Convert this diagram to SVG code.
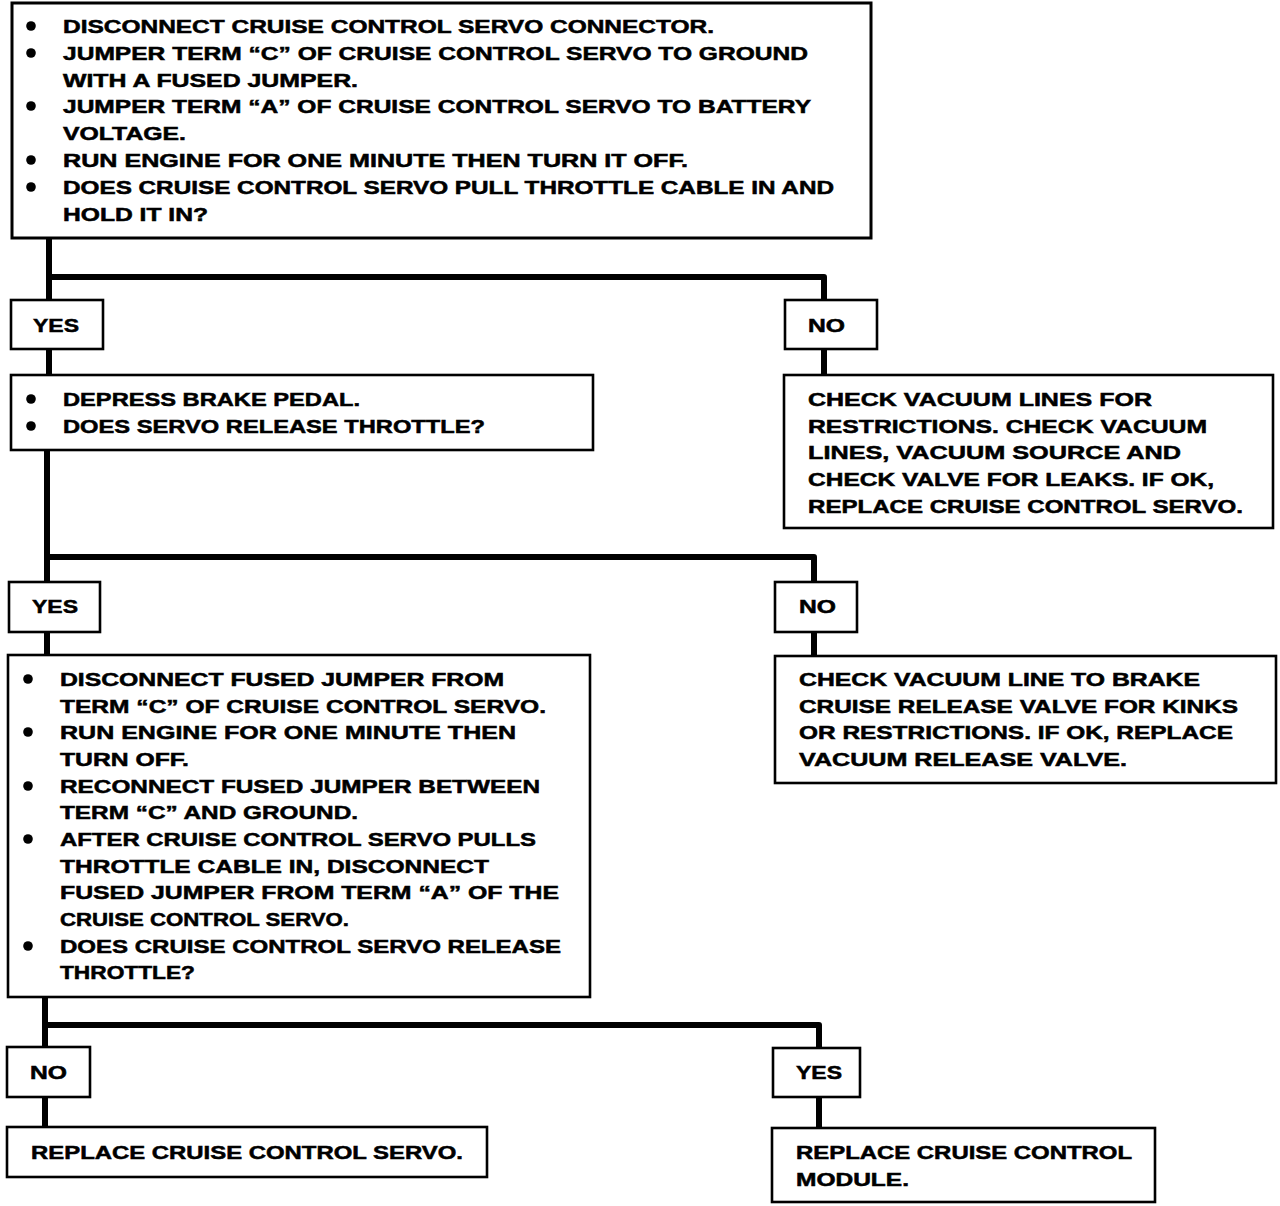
<svg xmlns="http://www.w3.org/2000/svg" width="1280" height="1206" viewBox="0 0 1280 1206">
<style>
.bx{fill:#fff;stroke:#000;stroke-width:2.6}
.t{font-family:"Liberation Sans",Arial,sans-serif;font-weight:bold;font-size:18px;fill:#000;stroke:#000;stroke-width:0.5}
.c{fill:none;stroke:#000;stroke-width:6;stroke-linejoin:round}
.b{fill:#000}
</style>
<rect width="1280" height="1206" fill="#fff"/>
<g id="connectors">
<path class="c" d="M49,238 V300 M49,349 V375 M49,277 H824 V300 M824,349 V375"/>
<path class="c" d="M47,450 V582 M47,631 V655 M47,557 H814 V582 M814,631 V656"/>
<path class="c" d="M45,997 V1047 M45,1097 V1127 M45,1025 H819 V1048 M819,1097 V1128"/>
</g>
<g id="n1">
<rect class="bx" x="12" y="3" width="859" height="235" style="stroke-width:3"/>
<circle class="b" cx="31" cy="26" r="4.8"/><circle class="b" cx="31" cy="53" r="4.8"/><circle class="b" cx="31" cy="106" r="4.8"/><circle class="b" cx="31" cy="160" r="4.8"/><circle class="b" cx="31" cy="187" r="4.8"/>
<text class="t" x="63" y="32.5" textLength="651" lengthAdjust="spacingAndGlyphs">DISCONNECT CRUISE CONTROL SERVO CONNECTOR.</text>
<text class="t" x="63" y="59.5" textLength="745" lengthAdjust="spacingAndGlyphs">JUMPER TERM “C” OF CRUISE CONTROL SERVO TO GROUND</text>
<text class="t" x="63" y="86.5" textLength="295" lengthAdjust="spacingAndGlyphs">WITH A FUSED JUMPER.</text>
<text class="t" x="63" y="112.5" textLength="748" lengthAdjust="spacingAndGlyphs">JUMPER TERM “A” OF CRUISE CONTROL SERVO TO BATTERY</text>
<text class="t" x="63" y="139.5" textLength="123" lengthAdjust="spacingAndGlyphs">VOLTAGE.</text>
<text class="t" x="63" y="166.5" textLength="625" lengthAdjust="spacingAndGlyphs">RUN ENGINE FOR ONE MINUTE THEN TURN IT OFF.</text>
<text class="t" x="63" y="193.5" textLength="771" lengthAdjust="spacingAndGlyphs">DOES CRUISE CONTROL SERVO PULL THROTTLE CABLE IN AND</text>
<text class="t" x="63" y="220.5" textLength="145" lengthAdjust="spacingAndGlyphs">HOLD IT IN?</text>
</g>
<g id="yes1">
<rect class="bx" x="11" y="300" width="92" height="49"/>
<text class="t" x="33" y="331.5" textLength="46" lengthAdjust="spacingAndGlyphs">YES</text>
</g>
<g id="no1">
<rect class="bx" x="785" y="300" width="92" height="49"/>
<text class="t" x="808" y="331.5" textLength="37" lengthAdjust="spacingAndGlyphs">NO</text>
</g>
<g id="n2">
<rect class="bx" x="11" y="375" width="582" height="75"/>
<circle class="b" cx="31" cy="399" r="4.8"/><circle class="b" cx="31" cy="426" r="4.8"/>
<text class="t" x="63" y="405.5" textLength="297" lengthAdjust="spacingAndGlyphs">DEPRESS BRAKE PEDAL.</text>
<text class="t" x="63" y="432.5" textLength="422" lengthAdjust="spacingAndGlyphs">DOES SERVO RELEASE THROTTLE?</text>
</g>
<g id="r1">
<rect class="bx" x="784" y="375" width="489" height="153"/>
<text class="t" x="808" y="405.5" textLength="344" lengthAdjust="spacingAndGlyphs">CHECK VACUUM LINES FOR</text>
<text class="t" x="808" y="432.5" textLength="399" lengthAdjust="spacingAndGlyphs">RESTRICTIONS. CHECK VACUUM</text>
<text class="t" x="808" y="458.5" textLength="373" lengthAdjust="spacingAndGlyphs">LINES, VACUUM SOURCE AND</text>
<text class="t" x="808" y="485.5" textLength="406" lengthAdjust="spacingAndGlyphs">CHECK VALVE FOR LEAKS. IF OK,</text>
<text class="t" x="808" y="512.5" textLength="435" lengthAdjust="spacingAndGlyphs">REPLACE CRUISE CONTROL SERVO.</text>
</g>
<g id="yes2">
<rect class="bx" x="9" y="582" width="91" height="50"/>
<text class="t" x="32" y="612.5" textLength="46" lengthAdjust="spacingAndGlyphs">YES</text>
</g>
<g id="no2">
<rect class="bx" x="775" y="582" width="82" height="50"/>
<text class="t" x="799" y="612.5" textLength="37" lengthAdjust="spacingAndGlyphs">NO</text>
</g>
<g id="n3">
<rect class="bx" x="8" y="655" width="582" height="342"/>
<circle class="b" cx="28" cy="679" r="4.8"/><circle class="b" cx="28" cy="732" r="4.8"/><circle class="b" cx="28" cy="786" r="4.8"/><circle class="b" cx="28" cy="839" r="4.8"/><circle class="b" cx="28" cy="946" r="4.8"/>
<text class="t" x="60" y="685.5" textLength="444" lengthAdjust="spacingAndGlyphs">DISCONNECT FUSED JUMPER FROM</text>
<text class="t" x="60" y="712.5" textLength="486" lengthAdjust="spacingAndGlyphs">TERM “C” OF CRUISE CONTROL SERVO.</text>
<text class="t" x="60" y="738.5" textLength="456" lengthAdjust="spacingAndGlyphs">RUN ENGINE FOR ONE MINUTE THEN</text>
<text class="t" x="60" y="765.5" textLength="129" lengthAdjust="spacingAndGlyphs">TURN OFF.</text>
<text class="t" x="60" y="792.5" textLength="480" lengthAdjust="spacingAndGlyphs">RECONNECT FUSED JUMPER BETWEEN</text>
<text class="t" x="60" y="818.5" textLength="298" lengthAdjust="spacingAndGlyphs">TERM “C” AND GROUND.</text>
<text class="t" x="60" y="845.5" textLength="476" lengthAdjust="spacingAndGlyphs">AFTER CRUISE CONTROL SERVO PULLS</text>
<text class="t" x="60" y="872.5" textLength="429" lengthAdjust="spacingAndGlyphs">THROTTLE CABLE IN, DISCONNECT</text>
<text class="t" x="60" y="898.5" textLength="499" lengthAdjust="spacingAndGlyphs">FUSED JUMPER FROM TERM “A” OF THE</text>
<text class="t" x="60" y="925.5" textLength="289" lengthAdjust="spacingAndGlyphs">CRUISE CONTROL SERVO.</text>
<text class="t" x="60" y="952.5" textLength="501" lengthAdjust="spacingAndGlyphs">DOES CRUISE CONTROL SERVO RELEASE</text>
<text class="t" x="60" y="978.5" textLength="135" lengthAdjust="spacingAndGlyphs">THROTTLE?</text>
</g>
<g id="r2">
<rect class="bx" x="775" y="656" width="501" height="127"/>
<text class="t" x="799" y="685.5" textLength="401" lengthAdjust="spacingAndGlyphs">CHECK VACUUM LINE TO BRAKE</text>
<text class="t" x="799" y="712.5" textLength="439" lengthAdjust="spacingAndGlyphs">CRUISE RELEASE VALVE FOR KINKS</text>
<text class="t" x="799" y="738.5" textLength="434" lengthAdjust="spacingAndGlyphs">OR RESTRICTIONS. IF OK, REPLACE</text>
<text class="t" x="799" y="765.5" textLength="328" lengthAdjust="spacingAndGlyphs">VACUUM RELEASE VALVE.</text>
</g>
<g id="no3">
<rect class="bx" x="7" y="1047" width="83" height="50"/>
<text class="t" x="30" y="1078.5" textLength="37" lengthAdjust="spacingAndGlyphs">NO</text>
</g>
<g id="yes3">
<rect class="bx" x="773" y="1048" width="87" height="49"/>
<text class="t" x="796" y="1078.5" textLength="46" lengthAdjust="spacingAndGlyphs">YES</text>
</g>
<g id="fl">
<rect class="bx" x="7" y="1127" width="480" height="50"/>
<text class="t" x="31" y="1158.5" textLength="432" lengthAdjust="spacingAndGlyphs">REPLACE CRUISE CONTROL SERVO.</text>
</g>
<g id="fr">
<rect class="bx" x="772" y="1128" width="383" height="74"/>
<text class="t" x="796" y="1158.5" textLength="336" lengthAdjust="spacingAndGlyphs">REPLACE CRUISE CONTROL</text>
<text class="t" x="796" y="1185.5" textLength="113" lengthAdjust="spacingAndGlyphs">MODULE.</text>
</g>
</svg>
